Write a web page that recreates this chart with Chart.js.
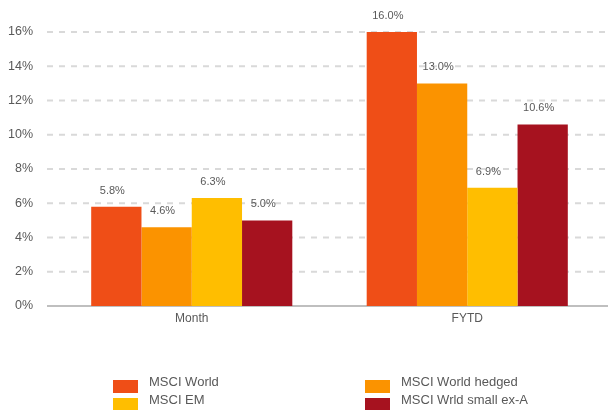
<!DOCTYPE html>
<html>
<head>
<meta charset="utf-8">
<script src="https://cdn.jsdelivr.net/npm/chart.js@4"></script>
<style>
  html,body{margin:0;padding:0;background:#fff;}
  #wrap{position:relative;width:608px;height:410px;}
  #legend{position:absolute;left:0;top:0;width:608px;height:410px;pointer-events:none;
    font-family:"Liberation Sans",Arial,sans-serif;font-size:13px;color:#595959;}
  .li{position:absolute;height:13px;}
  .sw{position:absolute;width:25px;height:13px;}
  .tx{position:absolute;white-space:nowrap;line-height:13px;}
</style>
</head>
<body>
<div id="wrap">
  <canvas id="c" width="608" height="410"></canvas>
  <div id="legend"></div>
</div>
<script>
const categories = ["Month", "FYTD"];
const seriesNames = ["MSCI World", "MSCI World hedged", "MSCI EM", "MSCI Wrld small ex-A"];
const seriesColors = ["#EF4E17", "#FB9300", "#FFBE00", "#A6121F"];
const msciWorld = [5.8, 16.0];
const msciWorldHedged = [4.6, 13.0];
const msciEM = [6.3, 6.9];
const msciSmallExA = [5.0, 10.6];
const yTicks = [0, 2, 4, 6, 8, 10, 12, 14, 16];

const seriesValues = [msciWorld, msciWorldHedged, msciEM, msciSmallExA];
const FONT = '"Liberation Sans", Arial, sans-serif';
const TXT = '#595959';

const labelPlugin = {
  id: 'barLabels',
  afterDatasetsDraw(chart) {
    const ctx = chart.ctx;
    ctx.save();
    ctx.font = '11px ' + FONT;
    ctx.fillStyle = TXT;
    ctx.textAlign = 'center';
    ctx.textBaseline = 'alphabetic';
    chart.data.datasets.forEach((ds, di) => {
      chart.getDatasetMeta(di).data.forEach((bar, i) => {
        ctx.fillText(ds.data[i].toFixed(1) + '%', bar.x - 4, bar.y - 13);
      });
    });
    ctx.restore();
  }
};

// grid lines drawn from the y scale's tick pixels, extending to the canvas edge
const gridPlugin = {
  id: 'gridLines',
  beforeDatasetsDraw(chart) {
    const ctx = chart.ctx;
    const ys = chart.scales.y;
    const x0 = chart.chartArea.left - 7;
    ctx.save();
    ctx.lineWidth = 2;
    ys.ticks.forEach(t => {
      const y = ys.getPixelForValue(t.value);
      ctx.beginPath();
      if (t.value === 0) {
        ctx.setLineDash([]);
        ctx.strokeStyle = '#bfbfbf';
      } else {
        ctx.setLineDash([6, 6]);
        ctx.strokeStyle = '#d9d9d9';
      }
      ctx.moveTo(x0, y);
      ctx.lineTo(chart.width, y);
      ctx.stroke();
    });
    ctx.restore();
  }
};

new Chart(document.getElementById('c'), {
  type: 'bar',
  data: {
    labels: categories,
    datasets: seriesNames.map((n, i) => ({
      label: n,
      data: seriesValues[i],
      backgroundColor: seriesColors[i],
      borderWidth: 0,
      categoryPercentage: 0.73,
      barPercentage: 1.0
    }))
  },
  options: {
    responsive: false,
    animation: false,
    events: [],
    layout: { padding: { top: 32, right: 3, left: 0, bottom: 0 } },
    plugins: { legend: { display: false }, tooltip: { enabled: false } },
    scales: {
      x: {
        grid: { display: false, drawTicks: false },
        border: { display: false },
        ticks: { color: TXT, font: { family: FONT, size: 12 }, padding: 5 },
        afterFit(s) { s.height = 104; }
      },
      y: {
        min: 0, max: 16,
        afterBuildTicks(s) { s.ticks = yTicks.map(v => ({ value: v })); },
        grid: { display: false, drawTicks: false },
        border: { display: false },
        ticks: {
          color: TXT, font: { family: FONT, size: 12.5 }, padding: 21,
          callback: v => v + '%'
        },
        afterFit(s) { s.width = 54; }
      }
    }
  },
  plugins: [gridPlugin, labelPlugin]
});

// HTML legend (2 columns)
const lg = document.getElementById('legend');
const pos = [[113, 380], [365, 380], [113, 398], [365, 398]];
seriesNames.forEach((n, i) => {
  const d = document.createElement('div');
  d.className = 'li';
  d.style.left = pos[i][0] + 'px';
  d.style.top = pos[i][1] + 'px';
  d.innerHTML = '<div class="sw" style="left:0;top:0;background:' + seriesColors[i] + '"></div>' +
    '<div class="tx" style="left:36px;top:-5px;">' + n + '</div>';
  lg.appendChild(d);
});
</script>
</body>
</html>
